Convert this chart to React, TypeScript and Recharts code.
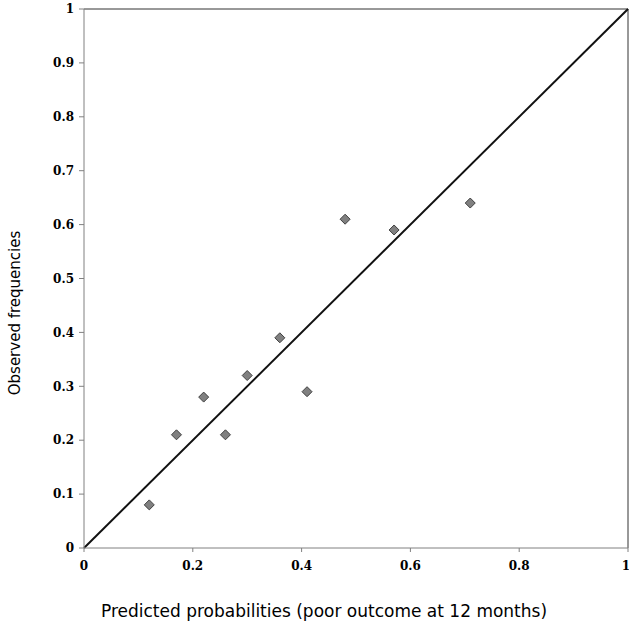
import { ScatterChart, Scatter, XAxis, YAxis, ReferenceLine } from "recharts";

const predicted = [0.12, 0.17, 0.22, 0.26, 0.3, 0.36, 0.41, 0.48, 0.57, 0.71];
const observed = [0.08, 0.21, 0.28, 0.21, 0.32, 0.39, 0.29, 0.61, 0.59, 0.64];
const xTicks = [0, 0.2, 0.4, 0.6, 0.8, 1];
const yTicks = [0, 0.1, 0.2, 0.3, 0.4, 0.5, 0.6, 0.7, 0.8, 0.9, 1];
const diagonal = [
  { x: 0, y: 0 },
  { x: 1, y: 1 },
];

const points = predicted.map((p, i) => ({ x: p, y: observed[i] }));

const tickStyle = {
  fontFamily: "'DejaVu Serif', serif",
  fontWeight: "bold",
  fontSize: 12,
  fill: "#000",
};

const titleStyle = {
  fontFamily: "'DejaVu Sans', sans-serif",
  fontSize: 15,
  fill: "#000",
};

const fmt = (v: number) => String(Math.round(v * 10) / 10);

// square-ish diamond marker like the original
const Diamond = (props: any) => {
  const { cx, cy } = props;
  const r = 5;
  return (
    <polygon
      points={`${cx},${cy - r} ${cx + r},${cy} ${cx},${cy + r} ${cx - r},${cy}`}
      fill="#808080"
      stroke="#404040"
      strokeWidth={1}
    />
  );
};

const App = () => {
  return (
    <div style={{ position: "absolute", left: 0, top: 0 }}>
      <ScatterChart
        width={629}
        height={625}
        margin={{ top: 9, right: 1, bottom: 47, left: 24 }}
      >
        <XAxis
          type="number"
          dataKey="x"
          domain={[0, 1]}
          ticks={xTicks}
          tickFormatter={fmt}
          height={30}
          stroke="#808080"
          tickSize={4}
          tickMargin={9}
          tick={tickStyle}
          label={{
            content: () => (
              <text x={324} y={617} textAnchor="middle" style={{ ...titleStyle, fontSize: 17 }}>
                Predicted probabilities (poor outcome at 12 months)
              </text>
            ),
          }}
        />
        <YAxis
          type="number"
          dataKey="y"
          domain={[0, 1]}
          ticks={yTicks}
          tickFormatter={fmt}
          width={60}
          stroke="#808080"
          tickSize={5}
          tickMargin={5}
          tick={tickStyle}
          label={{
            content: () => (
              <text
                x={20}
                y={313}
                textAnchor="middle"
                transform="rotate(-90 20 313)"
                style={titleStyle}
              >
                Observed frequencies
              </text>
            ),
          }}
        />
        <ReferenceLine y={1} stroke="#333" strokeWidth={1} />
        <ReferenceLine x={1} stroke="#333" strokeWidth={1} />
        <ReferenceLine segment={diagonal} stroke="#111" strokeWidth={2} />
        <Scatter
          data={points}
          shape={Diamond}
          isAnimationActive={false}
        />
      </ScatterChart>
    </div>
  );
};

export default App;
